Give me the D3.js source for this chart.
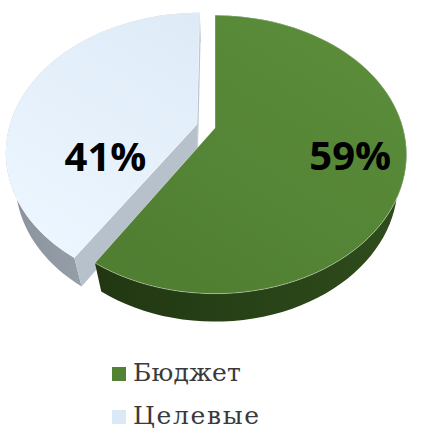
<!DOCTYPE html>
<html lang="ru">
<head>
<meta charset="utf-8">
<title>Бюджет / Целевые</title>
<script src="https://d3js.org/d3.v7.min.js"></script>
<style type="text/css">
  body { margin: 0; background: #fff; }
  svg { width: 423px; height: 432px; display: block; }
  .pct { font-family: "Open Sans", sans-serif; font-weight: bold; font-size: 40px; fill: #000; }
  .legend { font-family: "DejaVu Serif", "Liberation Serif", serif; font-size: 25px; fill: #3a3a3a; }
</style>
</head>
<body>
<svg></svg>
<script type="text/javascript">
// data
const categories = ["Бюджет", "Целевые"];
const values = [59, 41];
const labels = ["59%", "41%"];

// look
const topColors  = [["#5a8c3a", "#4f7d31"], ["#dbe8f5", "#ecf6ff"]];
const sideColors = [["#1e3210", "#2f4d1c"], ["#8c959f", "#c7ced6"]];
const wallColor  = ["#26401a", "#b7c1cb"];
const explode    = [0, 0.1];
// where Excel put the labels (angle in degrees, radius 0..1)
const labelSpot  = [[106, 0.72], [243, 0.52]];

// simple perspective camera looking down at the pie
const cx = 215, cy = 128;
const tilt = 45.5 * Math.PI / 180;
const s = Math.sin(tilt), c = Math.cos(tilt);
const D = 3.68, F = 692, thick = 0.24;

function proj(X, Y, Z) {
  const depth = D - (Y * s + Z * c);
  return [cx + F * X / depth, cy - F * (Y * c - Z * s) / depth];
}

const svg = d3.select("svg");
const defs = svg.append("defs");

const pie = d3.pie().sort(null).startAngle(0).endAngle(2 * Math.PI);
const arcs = pie(values);

// gradients
arcs.forEach((d, i) => {
  const gt = defs.append("linearGradient").attr("id", "top" + i)
    .attr("gradientUnits", "userSpaceOnUse")
    .attr("x1", 300).attr("y1", 10).attr("x2", 120).attr("y2", 300);
  gt.append("stop").attr("offset", 0).attr("stop-color", topColors[i][0]);
  gt.append("stop").attr("offset", 1).attr("stop-color", topColors[i][1]);
  const gs = defs.append("linearGradient").attr("id", "side" + i)
    .attr("gradientUnits", "userSpaceOnUse")
    .attr("x1", 20).attr("y1", 0).attr("x2", 410).attr("y2", 0);
  gs.append("stop").attr("offset", 0).attr("stop-color", sideColors[i][0]);
  gs.append("stop").attr("offset", 1).attr("stop-color", sideColors[i][1]);
});

const line = d3.line();

function rim(d, off, Y, reverse) {
  const n = 80, pts = [];
  for (let k = 0; k <= n; k++) {
    const a = d.startAngle + (d.endAngle - d.startAngle) * k / n;
    pts.push(proj(off[0] + Math.sin(a), Y, off[1] - Math.cos(a)));
  }
  return reverse ? pts.reverse() : pts;
}

function wallVisible(a, dir, off) {
  // outward normal of a radial wall
  const nx = Math.cos(a) * dir, nz = Math.sin(a) * dir;
  const px = off[0] + 0.5 * Math.sin(a), pz = off[1] - 0.5 * Math.cos(a);
  const dot = nx * (0 - px) + nz * (D * c - pz);
  return dot > 0.01;
}

// draw back slice first
const order = arcs.map((d, i) => i).reverse();

order.forEach(i => {
  const d = arcs[i];
  const mid = (d.startAngle + d.endAngle) / 2;
  const off = [explode[i] * Math.sin(mid), -explode[i] * Math.cos(mid)];
  const g = svg.append("g");

  // outer side
  const side = rim(d, off, 0, false).concat(rim(d, off, -thick, true));
  g.append("path").attr("d", line(side) + "Z").attr("fill", "url(#side" + i + ")");

  // radial walls
  [[d.startAngle, -1], [d.endAngle, 1]].forEach(([a, dir]) => {
    if (!wallVisible(a, dir, off)) return;
    const rx = off[0] + Math.sin(a), rz = off[1] - Math.cos(a);
    const q = [proj(off[0], 0, off[1]), proj(rx, 0, rz), proj(rx, -thick, rz), proj(off[0], -thick, off[1])];
    g.append("path").attr("d", line(q) + "Z").attr("fill", wallColor[i]);
  });

  // top face
  const top = [proj(off[0], 0, off[1])].concat(rim(d, off, 0, false));
  g.append("path").attr("d", line(top) + "Z")
    .attr("fill", "url(#top" + i + ")")
    .attr("stroke", "rgba(255,255,255,0.45)")
    .attr("stroke-width", 0.8);
});

// percentage labels
arcs.forEach((d, i) => {
  const mid = (d.startAngle + d.endAngle) / 2;
  const off = [explode[i] * Math.sin(mid), -explode[i] * Math.cos(mid)];
  const a = labelSpot[i][0] * Math.PI / 180, r = labelSpot[i][1];
  const p = proj(off[0] + r * Math.sin(a), 0, off[1] - r * Math.cos(a));
  svg.append("text").attr("class", "pct")
    .attr("x", p[0]).attr("y", p[1])
    .attr("text-anchor", "middle").attr("dy", "0.36em")
    .text(labels[i]);
});

// legend
const lg = svg.selectAll("g.leg").data(categories).enter().append("g")
  .attr("class", "leg")
  .attr("transform", (d, i) => "translate(112," + (367 + i * 43) + ")");
lg.append("rect").attr("width", 14).attr("height", 14)
  .attr("fill", (d, i) => i === 0 ? "#548235" : "#dbe8f5");
lg.append("text").attr("class", "legend")
  .attr("x", 21).attr("y", 14)
  .attr("textLength", d => d.length * 18.3 - 2)
  .attr("lengthAdjust", "spacing")
  .text(d => d);
</script>
</body>
</html>
